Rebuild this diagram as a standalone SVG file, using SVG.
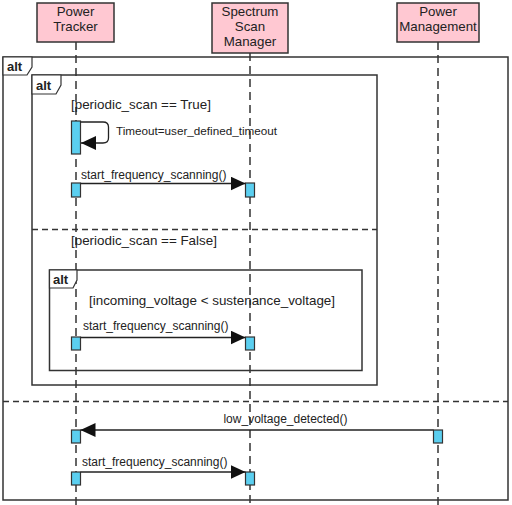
<svg xmlns="http://www.w3.org/2000/svg" width="512" height="505" viewBox="0 0 512 505">
<defs>
<style>
text{font-family:"Liberation Sans",Arial,sans-serif;fill:#222;}
.part{fill:#ffc8d2;stroke:#333;stroke-width:1.5;}
.pt{font-size:13.3px;text-anchor:middle;}
.life{stroke:#333;stroke-width:1.5;stroke-dasharray:8 5;fill:none;}
.frame{fill:none;stroke:#333;stroke-width:1.5;}
.tab{fill:#fff;stroke:#333;stroke-width:1.2;}
.kw{font-size:13px;font-weight:bold;}
.sep{stroke:#333;stroke-width:1.5;stroke-dasharray:6 4;fill:none;}
.guard{font-size:13.4px;}
.msg{font-size:12px;}
.act{fill:#5bcff0;stroke:#333;stroke-width:1.2;}
.line{stroke:#222;stroke-width:1.3;fill:none;}
</style>
<marker id="ah" markerWidth="15" markerHeight="14" refX="15" refY="7" orient="auto" markerUnits="userSpaceOnUse">
<path d="M0,0 L15,7 L0,14 Z" fill="#111"/>
</marker>
</defs>
<rect width="512" height="505" fill="#fff"/>

<g id="lifelines">
<line class="life" x1="76" y1="42" x2="76" y2="505"/>
<line class="life" x1="250" y1="53" x2="250" y2="505"/>
<line class="life" x1="438" y1="42" x2="438" y2="505"/>
</g>

<g id="frames">
<rect class="frame" x="3" y="57" width="505" height="443"/>
<path class="tab" d="M3,57 H32 V67 L27,75 H3 Z"/>
<text class="kw" x="7" y="71">alt</text>
<line class="sep" x1="3" y1="401.5" x2="508" y2="401.5"/>

<rect class="frame" x="32" y="75" width="345" height="310"/>
<path class="tab" d="M32,75 H61 V85 L56,94 H32 Z"/>
<text class="kw" x="36" y="90">alt</text>
<line class="sep" x1="32" y1="229.5" x2="377" y2="229.5"/>
<text class="guard" x="71" y="109">[periodic_scan == True]</text>
<text class="guard" x="71" y="245">[periodic_scan == False]</text>

<rect class="frame" x="49.5" y="270" width="312.5" height="100.5"/>
<path class="tab" d="M49.5,270 H77 V280 L73,288 H49.5 Z"/>
<text class="kw" x="53" y="284">alt</text>
<text class="guard" x="89" y="305">[incoming_voltage &lt; sustenance_voltage]</text>
</g>

<g id="power_tracker">
<rect class="part" x="37" y="3" width="77" height="39"/>
<text class="pt" x="75.5" y="16">Power</text>
<text class="pt" x="75.5" y="31">Tracker</text>
</g>
<g id="spectrum_scan_manager">
<rect class="part" x="212" y="3" width="76" height="50"/>
<text class="pt" x="250" y="16">Spectrum</text>
<text class="pt" x="250" y="31">Scan</text>
<text class="pt" x="250" y="46">Manager</text>
</g>
<g id="power_management">
<rect class="part" x="397" y="3" width="82" height="39"/>
<text class="pt" x="438" y="16">Power</text>
<text class="pt" x="438" y="31">Management</text>
</g>

<g id="activations">
<rect class="act" x="71.5" y="121" width="9" height="33"/>
<rect class="act" x="71.5" y="183" width="9" height="14"/>
<rect class="act" x="245.5" y="183" width="9" height="14"/>
<rect class="act" x="71.5" y="337" width="9" height="13"/>
<rect class="act" x="245.5" y="337" width="9" height="13"/>
<rect class="act" x="71.5" y="430" width="9" height="13"/>
<rect class="act" x="433.5" y="430" width="9" height="13"/>
<rect class="act" x="71.5" y="472" width="9" height="13"/>
<rect class="act" x="245.5" y="472" width="9" height="13"/>
</g>

<g id="connectors">
<path class="line" d="M80.5,122 H103 Q108.5,122 108.5,127 V138 Q108.5,143 103,143 H81" marker-end="url(#ah)"/>
<text class="msg" x="116" y="135" style="font-size:11.7px">Timeout=user_defined_timeout</text>

<line class="line" x1="80.5" y1="183.5" x2="245.5" y2="183.5" marker-end="url(#ah)"/>
<text class="msg" x="81" y="179">start_frequency_scanning()</text>

<line class="line" x1="80.5" y1="337.5" x2="245.5" y2="337.5" marker-end="url(#ah)"/>
<text class="msg" x="83" y="330">start_frequency_scanning()</text>

<line class="line" x1="433.5" y1="430" x2="80.5" y2="430" marker-end="url(#ah)"/>
<text class="msg" x="285.5" y="423" text-anchor="middle">low_voltage_detected()</text>

<line class="line" x1="80.5" y1="472" x2="245.5" y2="472" marker-end="url(#ah)"/>
<text class="msg" x="82" y="466">start_frequency_scanning()</text>
</g>
</svg>
